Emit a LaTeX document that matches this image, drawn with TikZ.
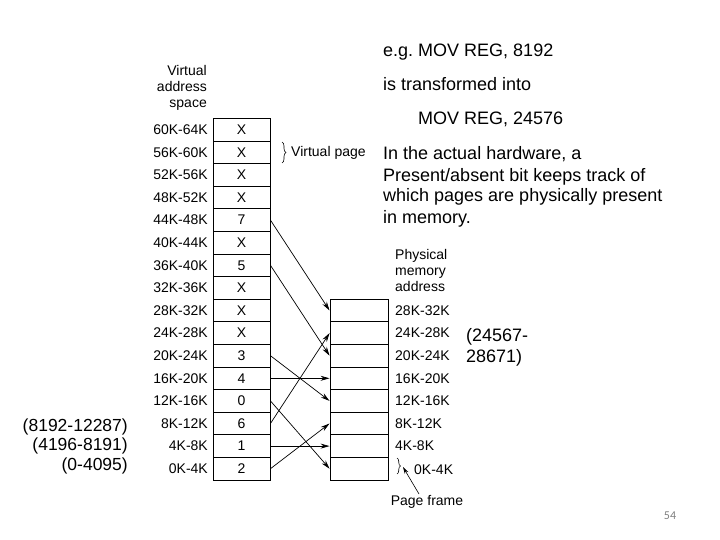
\documentclass[tikz,border=0pt]{standalone}
\usepackage{fontspec}
\setmainfont{Liberation Sans}
\newfontfamily\pnfont{Carlito}
\usetikzlibrary{arrows.meta,decorations.pathreplacing}
\frenchspacing
\begin{document}
\begin{tikzpicture}[x=1pt,y=-1pt,
  vrow/.style={draw,line width=0.9pt,minimum width=57pt,minimum height=22.6pt,inner sep=0pt,font=\fontsize{14}{14}\selectfont},
  prow/.style={draw,line width=0.9pt,minimum width=58pt,minimum height=22.6pt,inner sep=0pt},
  lbl/.style={font=\fontsize{14}{14}\selectfont,inner sep=0pt},
  big/.style={font=\fontsize{18}{21}\selectfont,inner sep=0pt,align=left},
  map/.style={line width=0.7pt,-{Stealth[length=9pt,width=5pt]}}]
\useasboundingbox (0,0) rectangle (720,540);
% virtual rows
\foreach \i/\c/\l in {0/2/0K-4K,1/1/4K-8K,2/6/8K-12K,3/0/12K-16K,4/4/16K-20K,5/3/20K-24K,6/X/24K-28K,7/X/28K-32K,8/X/32K-36K,9/5/36K-40K,10/X/40K-44K,11/7/44K-48K,12/X/48K-52K,13/X/52K-56K,14/X/56K-60K,15/X/60K-64K}{
  \node[vrow] (v\i) at (241.5,{480-(\i+0.5)*22.6}) {\c};
  \node[lbl,anchor=east] (vl\i) at (208,{480-(\i+0.5)*22.6}) {\l};
}
% physical rows
\foreach \i in {0,...,7}{
  \node[prow] (p\i) at (359,{480-(\i+0.5)*22.6}) {};
}
\foreach \i/\l in {1/4K-8K,2/8K-12K,3/12K-16K,4/16K-20K,5/20K-24K,6/24K-28K,7/28K-32K}{
  \node[lbl,anchor=west] (pl\i) at (395,{480-(\i+0.5)*22.6}) {\l};
}
\node[lbl,anchor=west] (pl0) at (414,470) {0K-4K};
% headers
\node[lbl,align=right,anchor=north east,font=\fontsize{14}{16}\selectfont] (vh) at (207,65) {Virtual\\address\\space};
\node[lbl,align=left,anchor=north west,font=\fontsize{14}{16}\selectfont] (ph) at (395,249) {Physical\\memory\\address};
% mappings
\draw[map] (v11.east) -- (p7.west);
\draw[map] (v9.east) -- (p5.west);
\draw[map] (v5.east) -- (p3.west);
\draw[map] (v4.east) -- (p4.west);
\draw[map] (v3.east) -- (p0.west);
\draw[map] (v2.east) -- (p6.west);
\draw[map] (v1.east) -- (p1.west);
\draw[map] (v0.east) -- (p2.west);
% virtual page brace
\draw[line width=0.6pt,decorate,decoration={brace,amplitude=4pt}] (282,142) -- (282,163);
\node[lbl,anchor=west] (vp) at (291,152.5) {Virtual page};
% page frame brace
\draw[line width=0.6pt,decorate,decoration={brace,amplitude=3.5pt}] (397,458) -- (397,474);
\node[lbl,anchor=north] (pf) at (427,495) {Page frame};
\coordinate (pft) at (419,494);
\coordinate (pfb) at (403,467);
\draw[line width=0.6pt,-{Stealth[length=7pt,width=4pt]}] (pft) -- (pfb);
% right texts (base anchor = baseline of last line)
\node[big,anchor=base west] (t1) at (383,57) {e.g. MOV REG, 8192};
\node[big,anchor=base west] (t2) at (383,91) {is transformed into};
\node[big,anchor=base west] (t3) at (418,125) {MOV REG, 24576};
\node[big,anchor=base west] (t4) at (383,223) {In the actual hardware, a\\Present/absent bit keeps track of\\which pages are physically present\\in memory.};
\node[big,anchor=base west] (t5) at (466,362) {(24567-\\28671)};
\node[big,anchor=base east,align=right,font=\fontsize{17.5}{19.5}\selectfont] (t6) at (128,470) {(8192-12287)\\(4196-8191)\\(0-4095)};
\node[anchor=base,inner sep=0pt,text=gray,font=\pnfont\fontsize{12}{12}\selectfont] (pn) at (670,519) {54};
\end{tikzpicture}
\end{document}
